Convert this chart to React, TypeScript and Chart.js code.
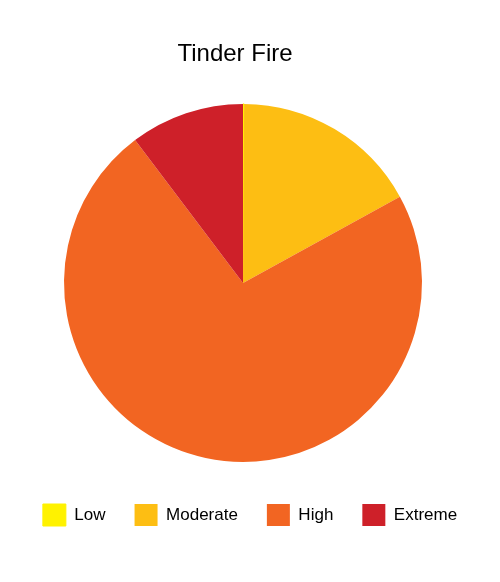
import { useEffect, useRef } from "react"
import { Chart, registerables } from "chart.js"

Chart.register(...registerables)

const title = "Tinder Fire"
const labels = ["Low", "Moderate", "High", "Extreme"]
const values = [0.1, 16.9, 72.7, 10.3]
const colors = ["#FFF200", "#FDBE13", "#F26522", "#CE2029"]

// nudge title and legend sideways; the pie itself sits a little left of centre
const nudgeBoxes = {
  id: "nudgeBoxes",
  afterLayout(chart: any) {
    if (chart.titleBlock) {
      chart.titleBlock.left -= 8
      chart.titleBlock.right -= 8
    }
    if (chart.legend) {
      chart.legend.left += 7
      chart.legend.right += 7
    }
  },
}

export default function App() {
  const chartRef = useRef<HTMLCanvasElement | null>(null)
  const chartInstance = useRef<Chart | null>(null)

  useEffect(() => {
    document.body.style.margin = "0"
    if (!chartRef.current) return
    if (chartInstance.current) chartInstance.current.destroy()

    const ctx = chartRef.current.getContext("2d")
    if (!ctx) return

    chartInstance.current = new Chart(ctx, {
      type: "pie",
      data: {
        labels,
        datasets: [
          {
            data: values,
            backgroundColor: colors,
            borderColor: colors,
            borderWidth: [1, 0, 0, 0],
          },
        ],
      },
      options: {
        animation: false,
        responsive: true,
        maintainAspectRatio: false,
        radius: 179,
        layout: { padding: { top: 40, left: 0, right: 14, bottom: 46 } },
        plugins: {
          title: {
            display: true,
            text: title,
            color: "#000",
            font: { family: "'Liberation Sans', Arial, sans-serif", size: 24, weight: "normal" },
            padding: { top: 0, bottom: 22 },
          },
          legend: {
            position: "bottom",
            labels: {
              color: "#000",
              boxWidth: 23,
              boxHeight: 22,
              padding: 29,
              font: { family: "'Liberation Sans', Arial, sans-serif", size: 17 },
            },
          },
          tooltip: { enabled: false },
        },
      },
      plugins: [nudgeBoxes],
    })

    return () => {
      if (chartInstance.current) {
        chartInstance.current.destroy()
        chartInstance.current = null
      }
    }
  }, [])

  return (
    <div style={{ width: 500, height: 582, position: "relative" }}>
      <canvas ref={chartRef} />
    </div>
  )
}
